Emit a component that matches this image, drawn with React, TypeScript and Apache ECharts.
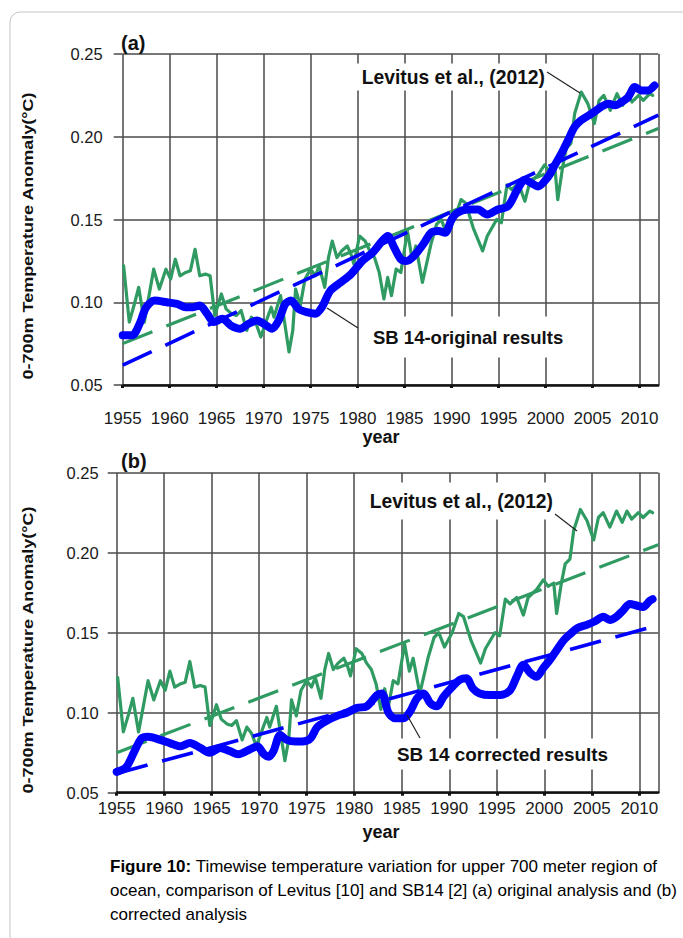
import React, { useEffect, useRef } from "react";
import * as echarts from "echarts";

// ---- Data ----
const levitusYears = [
  1955.1, 1955.7, 1956.2, 1956.7, 1957.3, 1958.3, 1958.9, 1959.6, 1960.1, 1960.6,
  1961.1, 1961.7, 1962.2, 1962.7, 1963.2, 1963.8, 1964.3, 1964.8, 1965.5, 1966.0,
  1966.6, 1967.1, 1967.6, 1968.2, 1968.7, 1969.2, 1969.7, 1970.3, 1970.8, 1971.1,
  1971.8, 1972.2, 1972.7, 1973.1, 1973.4, 1973.9, 1974.4, 1975.0, 1975.5, 1975.9,
  1976.5, 1976.9, 1977.3, 1977.8, 1978.3, 1978.9, 1979.3, 1979.6, 1980.2, 1980.8,
  1981.3, 1981.8, 1982.3, 1982.8, 1983.2, 1983.6, 1984.1, 1984.6, 1985.3, 1985.8,
  1986.2, 1986.9, 1987.8, 1988.4, 1988.9, 1989.5, 1990.3, 1991.0, 1991.5, 1992.3,
  1993.3, 1993.8, 1994.3, 1994.8, 1995.3, 1995.9, 1996.4, 1997.1, 1997.8, 1998.3,
  1999.2, 1999.9, 2000.4, 2001.0, 2001.3, 2001.8, 2002.2, 2002.7, 2003.1, 2003.8,
  2004.5, 2005.2, 2005.7, 2006.2, 2006.9, 2007.6, 2008.2, 2008.7, 2009.2, 2009.9,
  2010.4, 2011.1, 2011.4,
];
const levitusValues = [
  0.122, 0.088, 0.098, 0.109, 0.088, 0.120, 0.108, 0.120, 0.114, 0.126,
  0.116, 0.118, 0.119, 0.132, 0.116, 0.117, 0.116, 0.092, 0.105, 0.096,
  0.093, 0.092, 0.095, 0.083, 0.091, 0.087, 0.079, 0.089, 0.097, 0.091,
  0.104, 0.089, 0.070, 0.083, 0.108, 0.098, 0.114, 0.120, 0.116, 0.122,
  0.109, 0.127, 0.137, 0.127, 0.131, 0.134, 0.129, 0.123, 0.140, 0.137,
  0.131, 0.127, 0.118, 0.102, 0.115, 0.104, 0.120, 0.118, 0.143, 0.126,
  0.134, 0.112, 0.135, 0.147, 0.150, 0.141, 0.150, 0.162, 0.160, 0.145,
  0.131, 0.140, 0.145, 0.150, 0.148, 0.171, 0.168, 0.172, 0.161, 0.172,
  0.177, 0.183, 0.179, 0.181, 0.162, 0.181, 0.193, 0.196, 0.214, 0.227,
  0.220, 0.208, 0.222, 0.225, 0.216, 0.226, 0.219, 0.226, 0.221, 0.225,
  0.222, 0.226, 0.225,
];

const sbOrigYears = [
  1955.0, 1956.0, 1956.8, 1957.5, 1958.4, 1959.7, 1960.8, 1961.7, 1962.5, 1963.2,
  1964.0, 1964.7, 1965.6, 1966.5, 1967.5, 1968.4, 1969.3, 1970.0, 1970.9, 1971.6,
  1972.3, 1972.9, 1973.7, 1974.6, 1975.5, 1976.2, 1977.1, 1978.2, 1979.3, 1980.5,
  1981.6, 1982.6, 1983.2, 1983.9, 1984.6, 1985.2, 1986.0, 1987.1, 1987.8, 1988.6,
  1989.3, 1990.0, 1990.6, 1991.7, 1992.8, 1993.8, 1994.9, 1996.0, 1997.0, 1997.8,
  1998.5, 1999.2, 2000.3, 2001.0, 2001.7, 2002.4, 2003.1, 2003.8, 2004.9, 2005.9,
  2006.7, 2007.4, 2008.1, 2008.8, 2009.5, 2010.2, 2010.9, 2011.6,
];
const sbOrigValues = [
  0.080, 0.080, 0.087, 0.097, 0.101, 0.100, 0.099, 0.097, 0.097, 0.098,
  0.093, 0.088, 0.090, 0.086, 0.084, 0.087, 0.089, 0.087, 0.084, 0.089,
  0.099, 0.101, 0.096, 0.094, 0.093, 0.097, 0.107, 0.112, 0.117, 0.125,
  0.130, 0.137, 0.140, 0.133, 0.126, 0.125, 0.128, 0.136, 0.142, 0.143,
  0.142, 0.150, 0.154, 0.156, 0.156, 0.153, 0.156, 0.158, 0.168, 0.174,
  0.172, 0.170, 0.176, 0.183, 0.190, 0.198, 0.206, 0.210, 0.214, 0.218,
  0.220, 0.219, 0.221, 0.224, 0.230, 0.228, 0.228, 0.231,
];

const sbCorrYears = [
  1955.0, 1956.0, 1956.8, 1957.6, 1958.3, 1959.6, 1960.6, 1961.7, 1962.7, 1963.8,
  1964.8, 1965.9, 1966.9, 1967.8, 1969.0, 1969.8, 1970.5, 1971.0, 1971.5, 1972.2,
  1972.9, 1973.8, 1974.5, 1975.4, 1976.1, 1977.1, 1978.2, 1979.2, 1980.3, 1981.3,
  1982.4, 1982.9, 1983.6, 1984.3, 1985.2, 1985.9, 1986.6, 1987.3, 1988.0, 1988.7,
  1989.4, 1990.3, 1991.1, 1991.8, 1992.5, 1993.2, 1994.3, 1995.4, 1996.4, 1997.1,
  1997.8, 1998.5, 1999.2, 1999.9, 2000.6, 2001.3, 2002.0, 2002.7, 2003.5, 2004.5,
  2005.3, 2006.2, 2006.9, 2007.6, 2008.3, 2009.0, 2009.7, 2010.4, 2011.1, 2011.4,
];
const sbCorrValues = [
  0.063, 0.066, 0.075, 0.084, 0.085, 0.083, 0.081, 0.079, 0.081, 0.078,
  0.075, 0.078, 0.076, 0.074, 0.077, 0.079, 0.074, 0.0725, 0.076, 0.086,
  0.083, 0.082, 0.082, 0.084, 0.091, 0.095, 0.098, 0.100, 0.103, 0.104,
  0.111, 0.112, 0.100, 0.0965, 0.0965, 0.101, 0.109, 0.112, 0.106, 0.104,
  0.110, 0.116, 0.1205, 0.1215, 0.115, 0.112, 0.111, 0.111, 0.114, 0.1225,
  0.130, 0.125, 0.1225, 0.128, 0.133, 0.139, 0.145, 0.149, 0.153, 0.155,
  0.157, 0.160, 0.158, 0.160, 0.164, 0.168, 0.167, 0.166, 0.170, 0.171,
];

// linear trends (end points)
const levitusTrendYears = [1955, 2012];
const levitusTrendValues = [0.075, 0.205];
const sbOrigTrendYears = [1955, 2012];
const sbOrigTrendValues = [0.062, 0.213];
const sbCorrTrendYears = [1955, 2011];
const sbCorrTrendValues = [0.062, 0.153];

const yearMin = 1955;
const yearMax = 2012;
const yearStep = 5;
const tempMin = 0.05;
const tempMax = 0.25;
const tempStep = 0.05;

const panelLetters = ["(a)", "(b)"];
const yTitle = "0-700m Temperature Anomaly(°C)";
const xTitle = "year";
const levitusLabel = "Levitus et al., (2012)";
const sbOrigLabel = "SB 14-original results";
const sbCorrLabel = "SB 14 corrected results";
const captionLines = [
  ["Figure 10:", " Timewise temperature variation for upper 700 meter region of"],
  ["", "ocean, comparison of Levitus [10] and SB14 [2] (a) original analysis and (b)"],
  ["", "corrected analysis"],
];

const GREEN = "#2f9b62";
const BLUE = "#0000ff";
const GRIDC = "#4a4a4a";
const FONT = "'Liberation Sans', Arial, Helvetica, sans-serif";

const zip = (xs: number[], ys: number[]) => xs.map((x, i) => [x, ys[i]]);

function makeXAxis(gridIndex: number, labelMargin: number) {
  return {
    gridIndex,
    type: "value",
    min: yearMin,
    max: yearMax,
    interval: yearStep,
    axisLine: { show: true, onZero: false, lineStyle: { color: "#111", width: 2.5 } },
    axisTick: { show: true, length: 3, lineStyle: { color: "#111", width: 3 } },
    axisLabel: {
      show: true,
      margin: labelMargin,
      fontSize: 17,
      color: "#1a1a1a",
      fontFamily: FONT,
      showMaxLabel: false,
      formatter: (v: number) => String(v),
    },
    splitLine: { show: true, lineStyle: { color: GRIDC, width: 1.5 } },
  };
}

function makeYAxis(gridIndex: number, labelMargin: number) {
  return {
    gridIndex,
    type: "value",
    min: tempMin,
    max: tempMax,
    interval: tempStep,
    axisLine: { show: false },
    axisTick: { show: true, length: 9, lineStyle: { color: GRIDC, width: 1.5 } },
    axisLabel: {
      show: true,
      margin: labelMargin,
      fontSize: 16.5,
      color: "#1a1a1a",
      fontFamily: FONT,
      formatter: (v: number) => v.toFixed(2),
    },
    splitLine: { show: true, lineStyle: { color: GRIDC, width: 1.5 } },
  };
}

function lineSeries(name: string, idx: number, data: number[][], color: string, width: number, dashed: boolean, z: number, smooth: number | boolean) {
  return {
    name,
    type: "line",
    xAxisIndex: idx,
    yAxisIndex: idx,
    data,
    showSymbol: false,
    symbol: "none",
    smooth,
    z,
    lineStyle: { color, width, type: dashed ? [32, 15] : "solid", cap: dashed ? "butt" : "round", join: "round" },
    emphasis: { disabled: true },
    silent: true,
  };
}

function labelText(text: string, x: number, y: number, align: string, pad: number[], size: number) {
  return {
    type: "text",
    x,
    y,
    z: 20,
    silent: true,
    style: {
      text,
      fontSize: size,
      fontWeight: "bold",
      fontFamily: FONT,
      fill: "#111",
      align,
      verticalAlign: "middle",
      backgroundColor: "#fff",
      padding: pad,
    },
  };
}

function leader(x1: number, y1: number, x2: number, y2: number) {
  return {
    type: "line",
    z: 21,
    silent: true,
    shape: { x1, y1, x2, y2 },
    style: { stroke: "#222", lineWidth: 1.2 },
  };
}

function yTitleText(y: number) {
  return {
    type: "text", x: 28, y, rotation: Math.PI / 2, scaleX: 1.2, z: 20, silent: true,
    style: { text: yTitle, fontSize: 15, fontWeight: "bold", fontFamily: FONT, fill: "#111", align: "center", verticalAlign: "middle" },
  };
}

export default function App() {
  const ref = useRef<HTMLDivElement>(null);
  useEffect(() => {
    if (!ref.current) return;
    const chart = echarts.init(ref.current, undefined, { renderer: "svg" });
    const option: any = {
      animation: false,
      backgroundColor: "#fff",
      textStyle: { fontFamily: FONT },
      grid: [
        { left: 122.7, top: 54, width: 535.6, height: 331 },
        { left: 116.7, top: 472.7, width: 541.6, height: 320 },
      ],
      xAxis: [makeXAxis(0, 25), makeXAxis(1, 7)],
      yAxis: [makeYAxis(0, 20), makeYAxis(1, 18)],
      series: [
        lineSeries("Levitus (a)", 0, zip(levitusYears, levitusValues), GREEN, 3.2, false, 2, false),
        lineSeries("Levitus trend (a)", 0, zip(levitusTrendYears, levitusTrendValues), GREEN, 3.2, true, 3, false),
        lineSeries("SB14 trend (a)", 0, zip(sbOrigTrendYears, sbOrigTrendValues), BLUE, 3.6, true, 3, false),
        lineSeries("SB14 original", 0, zip(sbOrigYears, sbOrigValues), BLUE, 8, false, 4, 0.3),
        lineSeries("Levitus (b)", 1, zip(levitusYears, levitusValues), GREEN, 3.2, false, 2, false),
        lineSeries("Levitus trend (b)", 1, zip(levitusTrendYears, levitusTrendValues), GREEN, 3.2, true, 3, false),
        lineSeries("SB14 trend (b)", 1, zip(sbCorrTrendYears, sbCorrTrendValues), BLUE, 3.6, true, 3, false),
        lineSeries("SB14 corrected", 1, zip(sbCorrYears, sbCorrValues), BLUE, 8, false, 4, 0.3),
      ],
      graphic: [
        {
          type: "rect",
          z: 0,
          silent: true,
          shape: { x: 10, y: 12, width: 720, height: 960, r: 10 },
          style: { fill: "none", stroke: "#c4c4c4", lineWidth: 1 },
        },
        {
          type: "text", x: 121, y: 43, z: 20, silent: true,
          style: { text: panelLetters[0], fontSize: 20, fontWeight: "bold", fontFamily: FONT, fill: "#111", align: "left", verticalAlign: "middle" },
        },
        {
          type: "text", x: 121, y: 461, z: 20, silent: true,
          style: { text: panelLetters[1], fontSize: 20, fontWeight: "bold", fontFamily: FONT, fill: "#111", align: "left", verticalAlign: "middle" },
        },
        yTitleText(236),
        yTitleText(650),
        {
          type: "text", x: 381, y: 437, z: 20, silent: true,
          style: { text: xTitle, fontSize: 18, fontWeight: "bold", fontFamily: FONT, fill: "#111", align: "center", verticalAlign: "middle" },
        },
        {
          type: "text", x: 381, y: 832, z: 20, silent: true,
          style: { text: xTitle, fontSize: 18, fontWeight: "bold", fontFamily: FONT, fill: "#111", align: "center", verticalAlign: "middle" },
        },
        labelText(levitusLabel, 548, 77, "right", [4, 3, 4, 6], 19.3),
        leader(547, 72, 580, 93),
        labelText(sbOrigLabel, 367, 337, "left", [11, 8, 11, 6], 18.5),
        leader(327, 308, 358, 328),
        labelText(levitusLabel, 556, 501, "right", [9, 3, 9, 6], 19.3),
        leader(555, 514, 577, 531),
        labelText(sbCorrLabel, 391, 754, "left", [6, 8, 6, 6], 18.9),
        leader(407, 715, 420, 738),
        ...captionLines.map((ln, i) => ({
          type: "text",
          x: 110,
          y: 866 + i * 24,
          z: 20,
          silent: true,
          style: {
            text: (ln[0] ? "{b|" + ln[0] + "}" : "") + "{r|" + ln[1] + "}",
            verticalAlign: "middle",
            align: "left",
            rich: {
              b: { fontSize: 17, fontWeight: "bold", fontFamily: FONT, color: "#111" },
              r: { fontSize: 17, fontFamily: FONT, color: "#111" },
            },
          },
        })),
      ],
    };
    chart.setOption(option);
    return () => chart.dispose();
  }, []);
  return (
    <div
      ref={ref}
      style={{ position: "fixed", left: 0, top: 0, width: 683, height: 938, background: "#fff" }}
    />
  );
}
